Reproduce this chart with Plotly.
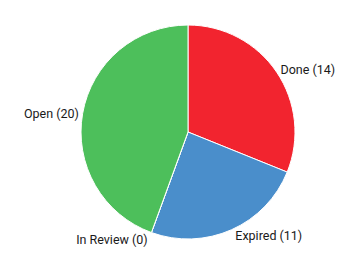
import plotly.graph_objects as go

labels = ["Done", "Expired", "In Review", "Open"]
values = [14, 11, 0, 20]
colors = ["#F2242F", "#4A8ECB", "#4A8ECB", "#4DBF5B"]

texts = [f"{l} ({v})" for l, v in zip(labels, values)]

fig = go.Figure(go.Pie(
    labels=labels,
    values=values,
    text=texts,
    textinfo="text",
    textposition="outside",
    sort=False,
    direction="clockwise",
    rotation=0,
    marker=dict(colors=colors, line=dict(color="white", width=1)),
    textfont=dict(family="Roboto", size=12.5, color="#1a1a1a"),
    showlegend=False,
    domain=dict(x=[0.2263, 0.824], y=[0.0808, 0.9038]),
))
fig.update_layout(
    width=358, height=260,
    margin=dict(l=0, r=0, t=0, b=0),
    paper_bgcolor="white",
    plot_bgcolor="white",
)
fig.write_html("out.html")
